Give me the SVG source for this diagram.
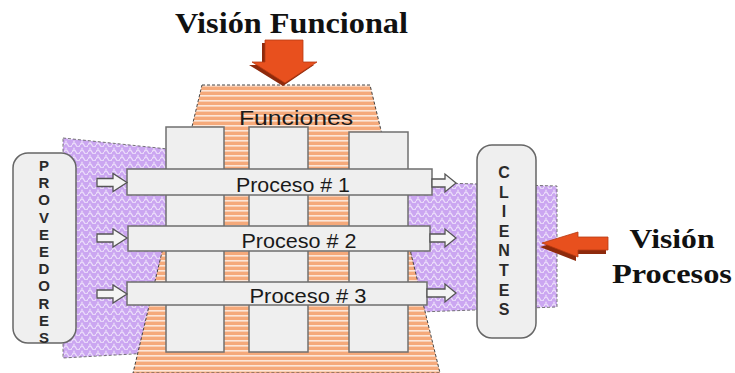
<svg xmlns="http://www.w3.org/2000/svg" width="735" height="373" viewBox="0 0 735 373">
<defs>
<pattern id="orng" width="8" height="5" patternUnits="userSpaceOnUse">
<rect width="8" height="5" fill="#F5A97A"/>
<rect y="0" width="8" height="1.6" fill="#FCE6D8"/>
</pattern>
<pattern id="purp" width="8" height="7" patternUnits="userSpaceOnUse">
<rect width="8" height="7" fill="#CBA6F1"/>
<path d="M0,5 q2,-4 4,0 t4,0" fill="none" stroke="#EBDDFA" stroke-width="1.3"/>
<circle cx="2" cy="1.5" r="0.9" fill="#E6D5F8"/>
</pattern>
<style>
.col{fill:#EFEFEF;stroke:#707070;stroke-width:1.5}
.bar{fill:#EFEFEF;stroke:#6E6E6E;stroke-width:1.5}
.sm{fill:#F4F4F4;stroke:#555;stroke-width:1.3}
.box{fill:#EFEFEF;stroke:#666;stroke-width:1.5}
.plab{font-family:"Liberation Sans",Arial,sans-serif;font-size:21px;fill:#1a1a1a;text-anchor:middle}
.vl{font-family:"Liberation Sans",Arial,sans-serif;font-weight:bold;fill:#2a2a2a;text-anchor:middle}
.ttl{font-family:"Liberation Serif","Times New Roman",serif;font-weight:bold;fill:#111}
</style>
</defs>

<g id="flujo-entrada">
<polygon points="63,138 168,149 168,352 63,358" fill="url(#purp)" stroke="#555" stroke-width="0.8" stroke-dasharray="3,2"/>
</g>
<g id="flujo-salida">
<polygon points="400,182 557,186 557,307 420,312" fill="url(#purp)" stroke="#555" stroke-width="0.8" stroke-dasharray="3,2"/>
</g>

<g id="funciones">
<polygon points="202,85 370,85 440,373 133,373" fill="url(#orng)" stroke="#444" stroke-width="1" stroke-dasharray="3,2"/>
<text x="296" y="125" font-family="Liberation Sans, Arial, sans-serif" font-size="20" fill="#1a1a1a" text-anchor="middle" textLength="114" lengthAdjust="spacingAndGlyphs">Funciones</text>
</g>

<g id="columnas">
<rect class="col" x="166" y="127" width="58" height="225"/>
<rect class="col" x="249" y="127" width="59" height="225"/>
<rect class="col" x="349" y="132" width="59" height="220"/>
</g>

<g id="proceso1">
<rect class="bar" x="127" y="169" width="305" height="26"/>
<text class="plab" x="293" y="192" textLength="114" lengthAdjust="spacingAndGlyphs">Proceso # 1</text>
</g>
<g id="proceso2">
<rect class="bar" x="128" y="226" width="302" height="25"/>
<text class="plab" x="299" y="248" textLength="115" lengthAdjust="spacingAndGlyphs">Proceso # 2</text>
</g>
<g id="proceso3">
<rect class="bar" x="127" y="282" width="300" height="23"/>
<text class="plab" x="308" y="303" textLength="117" lengthAdjust="spacingAndGlyphs">Proceso # 3</text>
</g>

<g id="connectors">
<polygon class="sm" points="97,178.5 113,178.5 113,173.5 127,182.5 113,191.5 113,186.5 97,186.5"/>
<polygon class="sm" points="97,234 113,234 113,229 127,238 113,247 113,242 97,242"/>
<polygon class="sm" points="97,290 113,290 113,285 127,294 113,303 113,298 97,298"/>
<polygon class="sm" points="432,179 445,179 445,174 456,183 445,192 445,187 432,187"/>
<polygon class="sm" points="430,234 445,234 445,229 456,238 445,247 445,242 430,242"/>
<polygon class="sm" points="427,289 445,289 445,284 456,293 445,302 445,297 427,297"/>
</g>

<g id="proveedores">
<rect class="box" x="13" y="153" width="63" height="190" rx="15"/>
<g class="vl" font-size="15">
<text x="44" y="171">P</text>
<text x="44" y="188.2">R</text>
<text x="44" y="205.4">O</text>
<text x="44" y="222.6">V</text>
<text x="44" y="239.8">E</text>
<text x="44" y="257">E</text>
<text x="44" y="274.2">D</text>
<text x="44" y="291.4">O</text>
<text x="44" y="308.6">R</text>
<text x="44" y="325.8">E</text>
<text x="44" y="343">S</text>
</g>
</g>

<g id="clientes">
<rect class="box" x="477" y="145" width="59" height="193" rx="15"/>
<g class="vl" font-size="16">
<text x="504" y="178">C</text>
<text x="504" y="197.6">L</text>
<text x="504" y="217.2">I</text>
<text x="504" y="236.8">E</text>
<text x="504" y="256.4">N</text>
<text x="504" y="276">T</text>
<text x="504" y="295.6">E</text>
<text x="504" y="315">S</text>
</g>
</g>

<g id="vision-funcional">
<text class="ttl" x="175" y="33" font-size="30" textLength="233" lengthAdjust="spacingAndGlyphs">Visión Funcional</text>
<polygon points="262,43 300,43 300,65 314,65 283,86 249,65 262,65" fill="#8E2A0C"/>
<polygon points="265,40 303,40 303,62 317,62 285,83 252,62 265,62" fill="#E8501E" stroke="#B83A12" stroke-width="0.8"/>
</g>

<g id="vision-procesos">
<polygon points="540,247 576,236 576,241 606,241 606,254 576,254 576,261" fill="#8E2A0C"/>
<polygon points="542,243 578,232 578,237 608,237 608,250 578,250 578,257" fill="#E8501E" stroke="#B83A12" stroke-width="0.8"/>
<text class="ttl" x="672" y="248" font-size="27" text-anchor="middle" textLength="85" lengthAdjust="spacingAndGlyphs">Visión</text>
<text class="ttl" x="612" y="283" font-size="27" textLength="120" lengthAdjust="spacingAndGlyphs">Procesos</text>
</g>
</svg>
